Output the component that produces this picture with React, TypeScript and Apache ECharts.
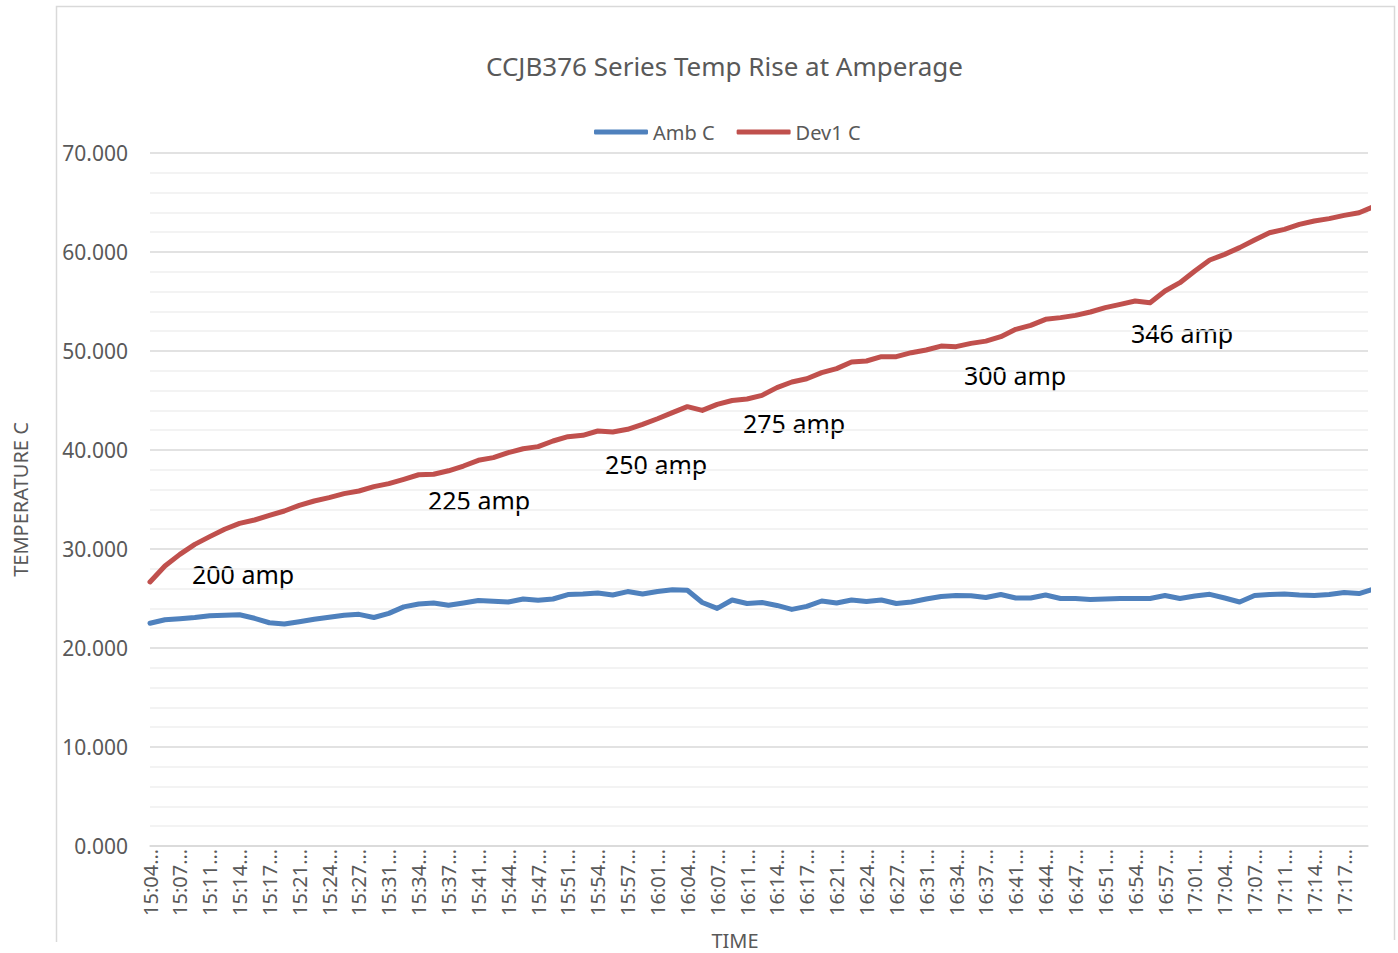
import React, { useEffect, useRef } from "react";
import * as echarts from "echarts";

// Tick labels (every 200 s, starting 15:04:30)
const tickLabels = [
  "15:04", "15:07", "15:11", "15:14", "15:17", "15:21", "15:24", "15:27", "15:31", "15:34",
  "15:37", "15:41", "15:44", "15:47", "15:51", "15:54", "15:57", "16:01", "16:04", "16:07",
  "16:11", "16:14", "16:17", "16:21", "16:24", "16:27", "16:31", "16:34", "16:37", "16:41",
  "16:44", "16:47", "16:51", "16:54", "16:57", "17:01", "17:04", "17:07", "17:11", "17:14",
  "17:17",
];

// Samples every 100 seconds from 15:04:30
const STEP_SEC = 100;
const TICK_SEC = 200;
const END_SEC = 8160;

const ambC = [
  22.5, 22.85, 22.95, 23.08, 23.25, 23.3, 23.36, 23.0, 22.55, 22.42,
  22.65, 22.9, 23.1, 23.3, 23.4, 23.08, 23.5, 24.15, 24.45, 24.55,
  24.31, 24.54, 24.8, 24.72, 24.65, 24.95, 24.82, 24.95, 25.4, 25.45,
  25.55, 25.35, 25.7, 25.45, 25.7, 25.88, 25.83, 24.6, 24.0, 24.85,
  24.5, 24.6, 24.3, 23.9, 24.2, 24.75, 24.55, 24.85, 24.7, 24.85,
  24.5, 24.65, 24.95, 25.2, 25.3, 25.28, 25.1, 25.4, 25.05, 25.05,
  25.35, 25.0, 25.0, 24.9, 24.95, 25.0, 25.0, 25.0, 25.3, 25.0,
  25.25, 25.42, 25.05, 24.65, 25.3, 25.4, 25.45, 25.35, 25.3, 25.4,
  25.6, 25.5, 25.95,
];

const dev1C = [
  26.67, 28.28, 29.46, 30.47, 31.25, 31.99, 32.59, 32.93, 33.4, 33.84,
  34.41, 34.85, 35.19, 35.59, 35.86, 36.3, 36.6, 37.04, 37.5, 37.55,
  37.9, 38.38, 38.96, 39.23, 39.73, 40.13, 40.34, 40.91, 41.35, 41.48,
  41.92, 41.82, 42.09, 42.59, 43.16, 43.77, 44.38, 44.0, 44.61, 45.0,
  45.15, 45.52, 46.3, 46.87, 47.2, 47.81, 48.22, 48.89, 48.99, 49.43,
  49.43, 49.83, 50.1, 50.5, 50.44, 50.77, 51.0, 51.45, 52.19, 52.59,
  53.2, 53.37, 53.6, 53.94, 54.38, 54.71, 55.05, 54.88, 56.06, 56.9,
  58.08, 59.19, 59.76, 60.44, 61.21, 61.95, 62.29, 62.79, 63.13, 63.37,
  63.7, 63.97, 64.6,
];

const annotations = ["200 amp", "225 amp", "250 amp", "275 amp", "300 amp", "346 amp"];
const annotationPos = [
  [192, 574], [428, 500], [605, 464], [743, 423], [964, 375], [1131, 333],
];

const FONT = "'Noto Sans', 'DejaVu Sans', sans-serif";
const GRAY = "#595959";

export default function App() {
  const ref = useRef<HTMLDivElement>(null);

  useEffect(() => {
    if (!ref.current) return;
    const chart = echarts.init(ref.current, null, { renderer: "svg" });
    const toPairs = (arr: number[]) => arr.map((v, i) => [i * STEP_SEC, v]);

    chart.setOption({
      animation: false,
      backgroundColor: "#ffffff",
      textStyle: { fontFamily: FONT },
      title: {
        text: "CCJB376 Series Temp Rise at Amperage",
        left: 486,
        top: 53,
        padding: 0,
        textStyle: { fontFamily: FONT, fontSize: 26, fontWeight: "normal", color: GRAY },
      },
      legend: {
        left: 589,
        top: 117,
        icon: "roundRect",
        itemWidth: 54,
        itemHeight: 5,
        itemGap: 22,
        textStyle: { fontFamily: FONT, fontSize: 20, color: GRAY },
        data: ["Amb C", "Dev1 C"],
      },
      grid: {
        left: 150,
        top: 153,
        width: 1218,
        height: 693,
        containLabel: false,
        outerBoundsMode: "none",
      },
      xAxis: {
        type: "value",
        min: 0,
        max: END_SEC,
        interval: TICK_SEC,
        name: "TIME",
        nameLocation: "middle",
        nameGap: 84,
        nameTextStyle: { fontFamily: FONT, fontSize: 20, color: GRAY, padding: [0, 48, 0, 0] },
        axisLine: { show: true, lineStyle: { color: "#d9d9d9", width: 1.5 } },
        axisTick: { show: false },
        splitLine: { show: false },
        axisLabel: {
          rotate: 90,
          margin: 3,
          fontFamily: FONT,
          fontSize: 20,
          color: GRAY,
          showMaxLabel: false,
          formatter: (v: number) => {
            const idx = Math.round(v / TICK_SEC);
            return tickLabels[idx] !== undefined ? tickLabels[idx] + "\u2026" : "";
          },
        },
      },
      yAxis: {
        type: "value",
        min: 0,
        max: 70,
        interval: 10,
        name: "TEMPERATURE C",
        nameLocation: "middle",
        nameGap: 120,
        nameTextStyle: { fontFamily: FONT, fontSize: 20, color: GRAY },
        axisLine: { show: false },
        axisTick: { show: false },
        axisLabel: {
          margin: 22,
          fontFamily: FONT,
          fontSize: 21,
          color: GRAY,
          formatter: (v: number) => v.toFixed(3),
        },
        splitLine: { show: true, lineStyle: { color: "#d9d9d9", width: 1.5 } },
        minorTick: { show: false, splitNumber: 5 },
        minorSplitLine: { show: true, lineStyle: { color: "#efefef", width: 1.5 } },
      },
      series: [
        {
          name: "Amb C",
          type: "line",
          data: toPairs(ambC),
          symbol: "none",
          color: "#4F81BD",
          lineStyle: { width: 5, color: "#4F81BD", cap: "round", join: "round" },
          clip: true,
        },
        {
          name: "Dev1 C",
          type: "line",
          data: toPairs(dev1C),
          symbol: "none",
          color: "#C0504D",
          lineStyle: { width: 5, color: "#C0504D", cap: "round", join: "round" },
          clip: true,
        },
      ],
      graphic: [
        {
          type: "polyline",
          shape: { points: [[56.5, 942], [56.5, 6.5], [1394.5, 6.5], [1394.5, 940]] },
          style: { stroke: "#d9d9d9", lineWidth: 1.5, fill: "none" },
          silent: true,
        },
        ...annotations.map((t, i) => ({
          type: "text",
          x: annotationPos[i][0],
          y: annotationPos[i][1],
          style: {
            text: t,
            fill: "#000000",
            fontFamily: FONT,
            fontSize: 25,
            verticalAlign: "middle",
            align: "left",
          },
          silent: true,
        })),
      ],
    });

    return () => chart.dispose();
  }, []);

  return (
    <div
      ref={ref}
      style={{ position: "absolute", left: 0, top: 0, width: 1398, height: 953 }}
    />
  );
}
